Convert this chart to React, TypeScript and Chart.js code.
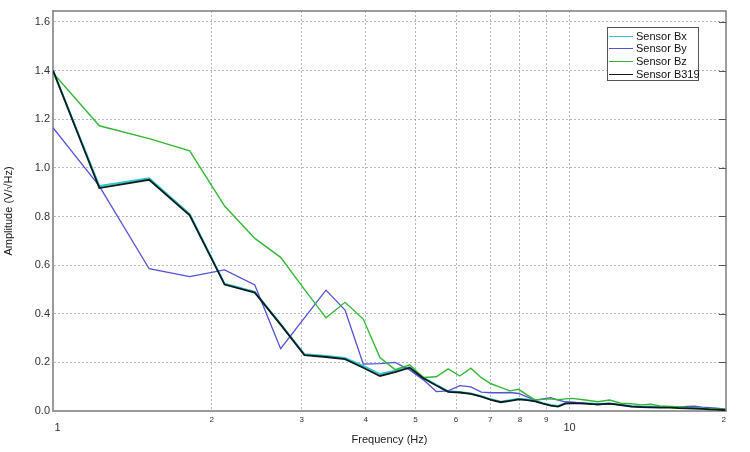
import React, { useEffect, useRef } from 'react';
import { Chart, registerables } from 'chart.js';

Chart.register(...registerables);

const FONT = "'Liberation Sans', Arial, Helvetica, sans-serif";

// Frequency samples (Hz)
const FREQUENCIES = [
  0.98, 1.207, 1.51, 1.812, 2.12, 2.428, 2.727, 3.035, 3.344, 3.643,
  3.954, 4.262, 4.562, 4.871, 5.182, 5.492, 5.792, 6.103, 6.413, 6.723,
  7.024, 7.335, 7.647, 7.948, 8.258, 8.57, 8.872, 9.183, 9.495, 9.807,
  10.108, 10.731, 11.346, 11.968, 12.595, 13.199, 13.804, 14.409, 15.013, 15.72,
  16.326, 16.932, 17.537, 18.142, 18.748, 19.355, 20.2,
];

const SENSOR_BX = [
  1.4, 0.925, 0.957, 0.81, 0.523, 0.49, 0.357, 0.233, 0.226, 0.218,
  0.185, 0.152, 0.166, 0.18, 0.137, 0.107, 0.081, 0.078, 0.072, 0.061,
  0.048, 0.038, 0.044, 0.05, 0.047, 0.042, 0.032, 0.025, 0.021, 0.032,
  0.034, 0.032, 0.029, 0.031, 0.026, 0.02, 0.018, 0.017, 0.016, 0.016,
  0.014, 0.013, 0.012, 0.011, 0.009, 0.008, 0.005,
];

const SENSOR_BY = [
  1.165, 0.925, 0.585, 0.553, 0.58, 0.518, 0.256, 0.383, 0.497, 0.415,
  0.193, 0.195, 0.2, 0.169, 0.128, 0.08, 0.083, 0.104, 0.099, 0.078,
  0.075, 0.075, 0.076, 0.072, 0.058, 0.045, 0.05, 0.055, 0.045, 0.038,
  0.036, 0.031, 0.025, 0.03, 0.025, 0.02, 0.018, 0.016, 0.015, 0.015,
  0.016, 0.019, 0.02, 0.016, 0.014, 0.012, 0.008,
];

const SENSOR_BZ = [
  1.39, 1.173, 1.12, 1.07, 0.843, 0.71, 0.632, 0.5, 0.383, 0.447,
  0.378, 0.22, 0.17, 0.19, 0.138, 0.141, 0.173, 0.144, 0.176, 0.137,
  0.112, 0.097, 0.083, 0.089, 0.066, 0.045, 0.048, 0.05, 0.046, 0.05,
  0.052, 0.045, 0.038, 0.045, 0.032, 0.03, 0.025, 0.028, 0.021, 0.019,
  0.018, 0.015, 0.013, 0.011, 0.009, 0.008, 0.006,
];

const SENSOR_B319 = [
  1.4, 0.917, 0.951, 0.805, 0.52, 0.487, 0.355, 0.23, 0.222, 0.213,
  0.178, 0.144, 0.16, 0.178, 0.135, 0.105, 0.079, 0.076, 0.07, 0.059,
  0.046, 0.036, 0.042, 0.048, 0.045, 0.04, 0.03, 0.022, 0.018, 0.03,
  0.032, 0.03, 0.027, 0.03, 0.024, 0.018, 0.016, 0.015, 0.014, 0.014,
  0.012, 0.011, 0.01, 0.009, 0.007, 0.006, 0.003,
];

const X_MIN = 0.98;
const X_MAX = 20.2;
const X_TICKS = [1, 2, 3, 4, 5, 6, 7, 8, 9, 10, 20];
const X_TICK_LABELS = ['1', '2', '3', '4', '5', '6', '7', '8', '9', '10', '2'];
const X_MAJOR_TICKS = [1, 10];
const Y_TICKS = [0, 0.2, 0.4, 0.6, 0.8, 1.0, 1.2, 1.4, 1.6];

const SERIES = [
  { label: 'Sensor Bx', data: SENSOR_BX, color: '#33c6cf', width: 2, order: 4 },
  { label: 'Sensor By', data: SENSOR_BY, color: '#5252d6', width: 1.3, order: 3 },
  { label: 'Sensor Bz', data: SENSOR_BZ, color: '#33b833', width: 1.4, order: 2 },
  { label: 'Sensor B319', data: SENSOR_B319, color: '#0c1c1c', width: 1.8, order: 1 },
];

const GRID_COLOR = 'rgba(120,120,150,0.55)';

const framePlugin = {
  id: 'frameBox',
  afterDatasetsDraw(chart: any) {
    const { ctx, chartArea } = chart;
    const { left, top, right, bottom } = chartArea;
    const yScale = chart.scales.y;
    ctx.save();
    ctx.strokeStyle = '#7c7c7c';
    ctx.lineWidth = 1.5;
    ctx.beginPath();
    ctx.moveTo(left, top);
    ctx.lineTo(right, top);
    ctx.lineTo(right, bottom);
    ctx.stroke();
    ctx.strokeStyle = '#555';
    ctx.lineWidth = 1;
    ctx.beginPath();
    for (const v of Y_TICKS) {
      if (v === 0) continue;
      const py = Math.round(yScale.getPixelForValue(v)) + 0.5;
      ctx.moveTo(right - 7, py);
      ctx.lineTo(right, py);
    }
    ctx.stroke();
    ctx.restore();
  },
};

export default function App() {
  const canvasRef = useRef<HTMLCanvasElement | null>(null);

  useEffect(() => {
    if (!canvasRef.current) return;
    const chart = new Chart(canvasRef.current, {
      type: 'line',
      data: {
        datasets: SERIES.map((s) => ({
          label: s.label,
          data: FREQUENCIES.map((f, i) => ({ x: f, y: s.data[i] })),
          borderColor: s.color,
          backgroundColor: s.color,
          borderWidth: s.width,
          pointRadius: 0,
          tension: 0,
          fill: false,
          order: s.order,
        })),
      },
      options: {
        animation: false,
        responsive: false,
        maintainAspectRatio: false,
        layout: { padding: { top: 11, right: 24, left: 0, bottom: 0 } },
        plugins: {
          legend: { display: false },
          tooltip: { enabled: false },
        },
        scales: {
          x: {
            type: 'logarithmic',
            min: X_MIN,
            max: X_MAX,
            afterBuildTicks: (scale: any) => {
              scale.ticks = X_TICKS.map((v) => ({ value: v, major: X_MAJOR_TICKS.includes(v) }));
            },
            afterFit: (scale: any) => {
              scale.height = 41;
            },
            grid: {
              drawTicks: false,
              color: (ctx: any) =>
                ctx.tick && (ctx.tick.value === 1 || ctx.tick.value === 20) ? 'rgba(0,0,0,0)' : GRID_COLOR,
              lineWidth: 1,
            },
            border: { display: true, color: '#9a9a9a', width: 2, dash: [2, 2] },
            ticks: {
              autoSkip: false,
              maxRotation: 0,
              minRotation: 0,
              padding: 4,
              color: '#333',
              font: (ctx: any) =>
                ctx.tick && X_MAJOR_TICKS.includes(ctx.tick.value)
                  ? { family: FONT, size: 11, lineHeight: 0.8 }
                  : { family: FONT, size: 8, lineHeight: 1.2 },
              callback: (value: any) => {
                const idx = X_TICKS.indexOf(Number(value));
                const label = idx >= 0 ? X_TICK_LABELS[idx] : '';
                return X_MAJOR_TICKS.includes(Number(value)) ? ['', label] : label;
              },
            },
            title: {
              display: true,
              text: 'Frequency (Hz)',
              color: '#222',
              font: { family: FONT, size: 11 },
              padding: { top: 0, bottom: 5 },
            },
          },
          y: {
            type: 'linear',
            min: 0,
            max: 1.645,
            afterBuildTicks: (scale: any) => {
              scale.ticks = Y_TICKS.map((v) => ({ value: v }));
            },
            afterFit: (scale: any) => {
              scale.width = 53;
            },
            grid: {
              drawTicks: false,
              color: (ctx: any) => (ctx.tick && ctx.tick.value === 0 ? 'rgba(0,0,0,0)' : GRID_COLOR),
              lineWidth: 1,
            },
            border: { display: true, color: '#9a9a9a', width: 2, dash: [2, 2] },
            ticks: {
              padding: 3,
              color: '#333',
              font: { family: FONT, size: 11 },
              callback: (value: any) => Number(value).toFixed(1),
            },
            title: {
              display: true,
              text: 'Amplitude (V/√Hz)',
              color: '#111',
              font: { family: FONT, size: 11 },
              padding: { top: 2, bottom: 0 },
            },
          },
        },
      },
      plugins: [framePlugin],
    });
    return () => chart.destroy();
  }, []);

  return (
    <div style={{ position: 'fixed', left: 0, top: 0, width: 750, height: 452, background: '#fff' }}>
      <canvas ref={canvasRef} width={750} height={452} style={{ width: 750, height: 452, display: 'block' }} />
      <div
        style={{
          position: 'absolute',
          left: 607,
          top: 27,
          width: 92,
          height: 54,
          border: '1px solid #555',
          boxSizing: 'border-box',
          background: '#fff',
          fontFamily: FONT,
          fontSize: 11,
          color: '#111',
        }}
      >
        {SERIES.map((s, i) => (
          <div
            key={s.label}
            style={{
              position: 'absolute',
              left: 1,
              top: 1.5 + i * 12.9,
              height: 13,
              display: 'flex',
              alignItems: 'center',
              whiteSpace: 'nowrap',
            }}
          >
            <span style={{ display: 'inline-block', width: 24, height: 0, borderTop: `1.5px solid ${s.color}` }} />
            <span style={{ marginLeft: 3, lineHeight: '13px' }}>{s.label}</span>
          </div>
        ))}
      </div>
    </div>
  );
}
